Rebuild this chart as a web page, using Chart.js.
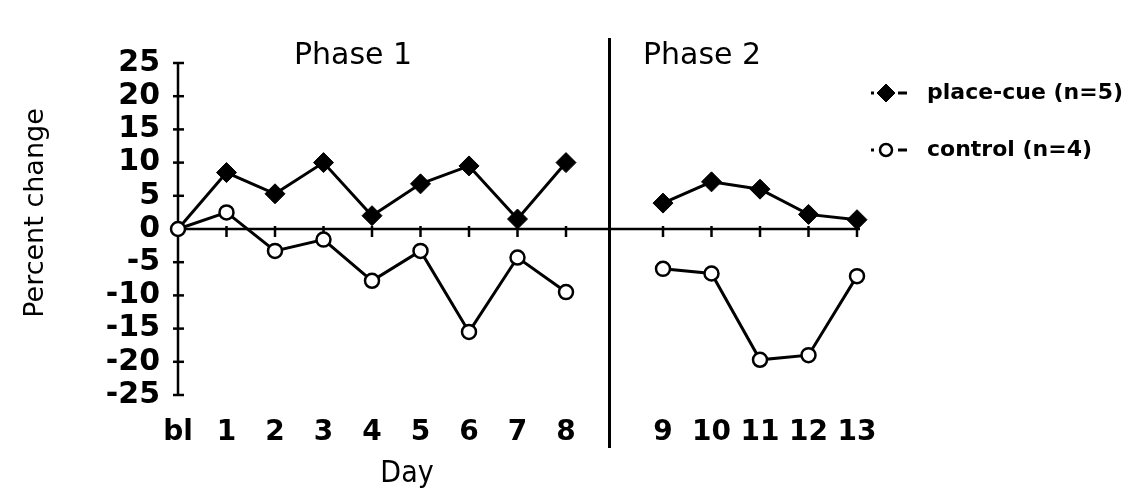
<!DOCTYPE html>
<html>
<head>
<meta charset="utf-8">
<script src="https://cdn.jsdelivr.net/npm/chart.js@4.4.1/dist/chart.umd.min.js"></script>
<style>
  html, body { margin: 0; padding: 0; background: #fff; }
</style>
</head>
<body>
<canvas id="c" width="1130" height="495"></canvas>
<script>
// Day labels; the empty entry is the break between the two phases
const days = ['bl', '1', '2', '3', '4', '5', '6', '7', '8', '', '9', '10', '11', '12', '13'];
// Percent change per day
const placeCue = [0, 8.5, 5.3, 10, 2, 6.8, 9.5, 1.5, 10, null, 3.9, 7.1, 6, 2.2, 1.4];
const control  = [0, 2.5, -3.3, -1.6, -7.8, -3.3, -15.5, -4.3, -9.5, null, -6, -6.7, -19.7, -19, -7.1];
const seriesNames = ['place-cue (n=5)', 'control (n=4)'];
const phaseNames = ['Phase 1', 'Phase 2'];
const yRange = [-25, 25];
const yStep = 5;

const condFamily = '"DejaVu Sans Condensed", "Liberation Sans Narrow", "DejaVu Sans", sans-serif';
const plainFamily = '"DejaVu Sans", "Liberation Sans", sans-serif';

// Axes through zero, tick marks, phase divider, titles and key
const framePlugin = {
  id: 'frame',
  beforeDatasetsDraw(chart) {
    const { ctx, scales: { x, y } } = chart;
    ctx.save();
    ctx.strokeStyle = '#000';
    ctx.lineWidth = 2.5;
    const x0 = x.getPixelForValue(0);
    // vertical axis
    ctx.beginPath();
    ctx.moveTo(x0, y.getPixelForValue(yRange[1]));
    ctx.lineTo(x0, y.getPixelForValue(yRange[0]));
    ctx.stroke();
    y.ticks.forEach(t => {
      const py = y.getPixelForValue(t.value);
      ctx.beginPath();
      ctx.moveTo(x0 - 5, py);
      ctx.lineTo(x0 + 6, py);
      ctx.stroke();
    });
    // horizontal axis at zero
    const py0 = y.getPixelForValue(0);
    ctx.beginPath();
    ctx.moveTo(x0, py0);
    ctx.lineTo(x.getPixelForValue(days.length - 1) + 3, py0);
    ctx.stroke();
    days.forEach((d, i) => {
      if (!d || i === 0) return;
      const px = x.getPixelForValue(i);
      ctx.beginPath();
      ctx.moveTo(px, py0 - 3);
      ctx.lineTo(px, py0 + 8);
      ctx.stroke();
    });
    // phase divider
    const gx = x.getPixelForValue(days.indexOf('')) - 5;
    ctx.lineWidth = 3;
    ctx.beginPath();
    ctx.moveTo(gx, 38);
    ctx.lineTo(gx, 448);
    ctx.stroke();
    ctx.restore();
  },
  afterDraw(chart) {
    const { ctx } = chart;
    ctx.save();
    ctx.fillStyle = '#000';
    ctx.textAlign = 'center';
    ctx.textBaseline = 'middle';

    // phase headings
    ctx.font = '30px ' + plainFamily;
    ctx.fillText(phaseNames[0], 353, 56);
    ctx.fillText(phaseNames[1], 702, 56);

    // axis titles
    ctx.font = '30px ' + condFamily;
    ctx.fillText('Day', 407, 474);
    ctx.save();
    ctx.translate(36, 213);
    ctx.rotate(-Math.PI / 2);
    ctx.font = '27px ' + plainFamily;
    ctx.fillText('Percent change', 0, 0);
    ctx.restore();

    // key
    const rows = [93, 150];
    chart.data.datasets.forEach((ds, i) => {
      const ry = rows[i];
      ctx.fillStyle = '#000';
      ctx.fillRect(871, ry - 1.5, 3, 3);
      ctx.fillRect(898, ry - 1.5, 9, 3);
      ctx.strokeStyle = '#000';
      ctx.fillStyle = ds.pointBackgroundColor;
      ctx.lineWidth = ds.pointBorderWidth;
      Chart.helpers.drawPoint(ctx, {
        pointStyle: ds.pointStyle,
        radius: ds.pointStyle === 'circle' ? 6 : 9,
        rotation: 0,
        borderWidth: ds.pointBorderWidth
      }, 886, ry);
      ctx.fillStyle = '#000';
      ctx.textAlign = 'left';
      ctx.font = 'bold 22px ' + plainFamily;
      ctx.fillText(ds.label, 927, ry);
    });
    ctx.restore();
  }
};

new Chart(document.getElementById('c'), {
  type: 'line',
  data: {
    labels: days,
    datasets: [
      {
        label: seriesNames[0],
        data: placeCue,
        order: 1,
        borderColor: '#000',
        borderWidth: 3,
        tension: 0,
        spanGaps: false,
        pointStyle: 'rectRot',
        pointRadius: ctx => (ctx.dataIndex === 0 ? 0 : 10),
        pointBackgroundColor: '#000',
        pointBorderColor: '#000',
        pointBorderWidth: 1
      },
      {
        label: seriesNames[1],
        data: control,
        order: 0,
        borderColor: '#000',
        borderWidth: 3,
        tension: 0,
        spanGaps: false,
        pointStyle: 'circle',
        pointRadius: 7,
        pointBackgroundColor: '#fff',
        pointBorderColor: '#000',
        pointBorderWidth: 2.5
      }
    ]
  },
  options: {
    responsive: false,
    devicePixelRatio: 1,
    animation: false,
    layout: { padding: { left: 0, top: 63, right: 273, bottom: 0 } },
    plugins: { legend: { display: false }, tooltip: { enabled: false } },
    scales: {
      x: {
        type: 'category',
        offset: false,
        grid: { display: false },
        border: { display: false },
        ticks: {
          autoSkip: false,
          maxRotation: 0,
          padding: 13,
          color: '#000',
          font: { family: plainFamily, size: 28, weight: 'bold' }
        },
        afterFit: s => { s.height = 100; }
      },
      y: {
        min: yRange[0],
        max: yRange[1],
        grid: { display: false },
        border: { display: false },
        ticks: {
          stepSize: yStep,
          autoSkip: false,
          padding: 10,
          color: '#000',
          font: { family: plainFamily, size: 30, weight: 'bold' }
        },
        afterFit: s => { s.width = 178; }
      }
    }
  },
  plugins: [framePlugin]
});
</script>
</body>
</html>
